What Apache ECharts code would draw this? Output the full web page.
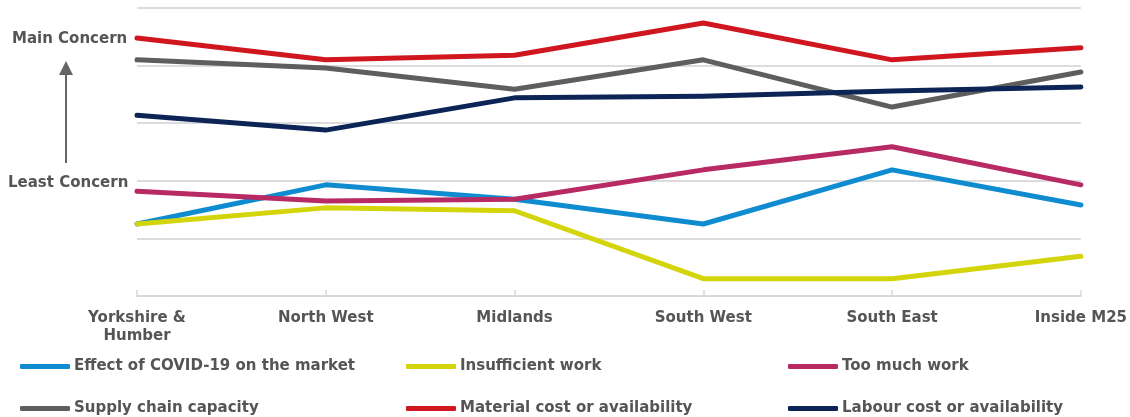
<!DOCTYPE html>
<html>
<head>
<meta charset="utf-8">
<script src="https://cdn.jsdelivr.net/npm/echarts@6/dist/echarts.min.js"></script>
<style>
  html, body { margin: 0; padding: 0; background: #fff; }
  #chart { width: 1130px; height: 417px; }
</style>
</head>
<body>
<div id="chart"></div>
<script>
// regions along the x axis
const regions = ['Yorkshire &\nHumber', 'North West', 'Midlands', 'South West', 'South East', 'Inside M25'];

// concern scores, 0 = bottom of the plot, 5 = top gridline
const covid       = [1.25, 1.93, 1.68, 1.25, 2.19, 1.58];
const insufficient = [1.25, 1.53, 1.48, 0.30, 0.30, 0.69];
const tooMuch     = [1.82, 1.65, 1.68, 2.19, 2.59, 1.93];
const supply      = [4.10, 3.96, 3.59, 4.10, 3.28, 3.89];
const material    = [4.48, 4.10, 4.18, 4.74, 4.10, 4.31];
const labour      = [3.14, 2.88, 3.44, 3.47, 3.56, 3.63];

const seriesNames = [
  'Effect of COVID-19 on the market', 'Insufficient work', 'Too much work',
  'Supply chain capacity', 'Material cost or availability', 'Labour cost or availability'
];
const seriesData = [covid, insufficient, tooMuch, supply, material, labour];
const colors = ['#0F8CCF', '#D4D40A', '#B82A63', '#5E5E5E', '#D0161F', '#0D2457'];

const textGrey = '#555555';
const font = '"DejaVu Sans", sans-serif';

// legend grid: 3 columns x 2 rows
const legendCols = [20, 406, 788];
const legendRows = [359, 401];

let myChart = echarts.init(document.getElementById('chart'));

let legends = seriesNames.map(function (name, i) {
  return {
    data: [name],
    left: legendCols[i % 3],
    top: legendRows[Math.floor(i / 3)],
    icon: 'roundRect',
    itemWidth: 50,
    itemHeight: 5,
    itemGap: 4,
    padding: 0,
    textStyle: { color: textGrey, fontSize: 15, fontWeight: 'bold', fontFamily: font, padding: [0, 0, 0, -1] }
  };
});

let option = {
  animation: false,
  color: colors,
  legend: legends,
  grid: { left: 137, right: 48, top: 8, bottom: 121, containLabel: false },
  xAxis: {
    type: 'category',
    data: regions,
    boundaryGap: false,
    axisLine: { lineStyle: { color: '#d9d9d9', width: 2 } },
    axisTick: { inside: true, length: 6, lineStyle: { color: '#d9d9d9', width: 1.5 } },
    axisLabel: { color: textGrey, fontSize: 15, fontWeight: 'bold', fontFamily: font, margin: 13, lineHeight: 18, interval: 0 }
  },
  yAxis: {
    type: 'value',
    min: 0,
    max: 5,
    interval: 1,
    axisLine: { show: false },
    axisTick: { show: false },
    axisLabel: { show: false },
    splitLine: { lineStyle: { color: '#dcdcdc', width: 2 } }
  },
  graphic: [
    { type: 'text', left: 12, top: 32, style: { text: 'Main Concern', fill: textGrey, font: 'bold 15px ' + font } },
    { type: 'text', left: 8, top: 176, style: { text: 'Least Concern', fill: textGrey, font: 'bold 15px ' + font } },
    { type: 'line', shape: { x1: 66, y1: 163, x2: 66, y2: 72 }, style: { stroke: '#666', lineWidth: 2 } },
    { type: 'polygon', shape: { points: [[66, 61], [59, 75], [73, 75]] }, style: { fill: '#666' } }
  ],
  series: seriesNames.map(function (name, i) {
    return {
      name: name,
      type: 'line',
      data: seriesData[i],
      symbol: 'none',
      lineStyle: { width: 5, cap: 'round', join: 'round' }
    };
  })
};

myChart.setOption(option);
</script>
</body>
</html>
